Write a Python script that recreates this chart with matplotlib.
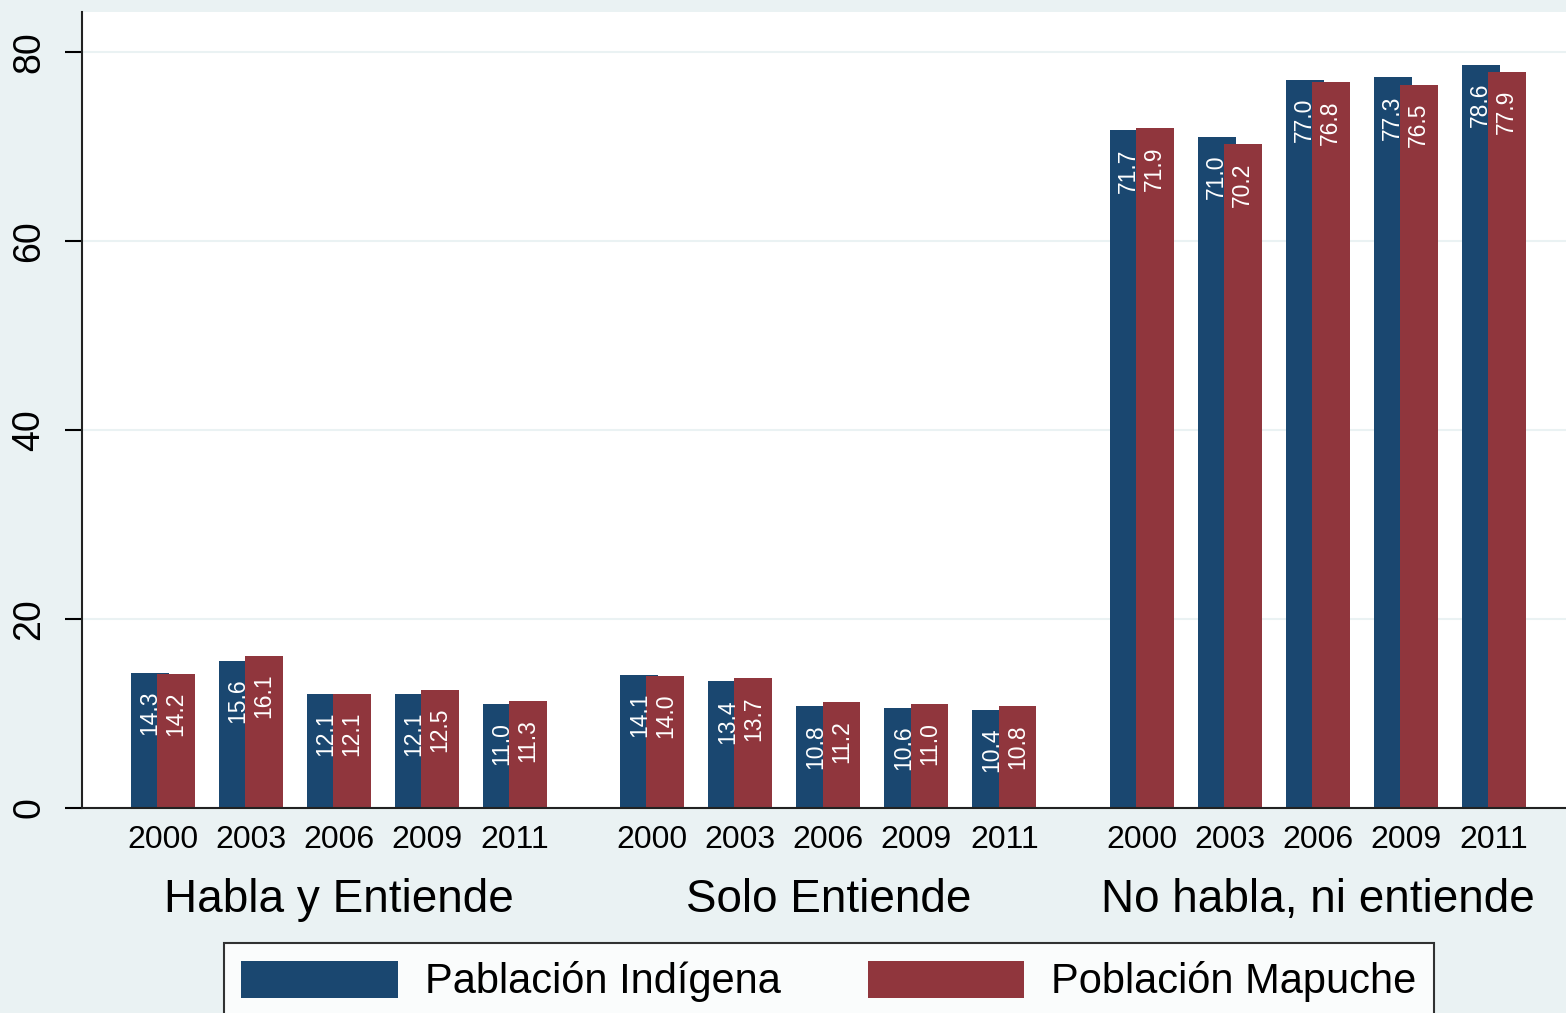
import matplotlib
matplotlib.use("Agg")
import matplotlib.pyplot as plt
import matplotlib.transforms as mtransforms
from matplotlib.patches import Patch

# data
groups = ["Habla y Entiende", "Solo Entiende", "No habla, ni entiende"]
years = ["2000", "2003", "2006", "2009", "2011"]
indigena = [
    [14.3, 15.6, 12.1, 12.1, 11.0],
    [14.1, 13.4, 10.8, 10.6, 10.4],
    [71.7, 71.0, 77.0, 77.3, 78.6],
]
mapuche = [
    [14.2, 16.1, 12.1, 12.5, 11.3],
    [14.0, 13.7, 11.2, 11.0, 10.8],
    [71.9, 70.2, 76.8, 76.5, 77.9],
]
series_labels = ["Pablación Indígena", "Población Mapuche"]

BLUE = "#1a4770"
RED = "#90363d"
BG = "#eaf2f3"

plt.rcParams['font.family'] = ['Liberation Sans', 'DejaVu Sans']

fig = plt.figure(figsize=(15.66, 10.13), dpi=100, facecolor=BG)
ax = fig.add_axes([82 / 1566, 1 - 808 / 1013, 1 - 82 / 1566, (808 - 12) / 1013])
ax.set_facecolor("white")

group_step = 5.56
bar_w = 0.43
off = 0.148

xticks = []
xlabels = []
for g, name in enumerate(groups):
    for j, yr in enumerate(years):
        xc = g * group_step + j
        xticks.append(xc)
        xlabels.append(yr)
        for val, dx, col in ((indigena[g][j], -off, BLUE), (mapuche[g][j], off, RED)):
            ax.bar(xc + dx, val, width=bar_w, color=col, zorder=3)
            ax.annotate("%.1f" % val, xy=(xc + dx, val), xytext=(0, -13),
                        textcoords="offset points", rotation=90,
                        ha="center", va="top", color="white", fontsize=16.5, zorder=4)

ax.set_xlim(-0.92, 15.94)
ax.set_ylim(0, 84.2)
ax.set_yticks([0, 20, 40, 60, 80])
ax.set_yticklabels(["0", "20", "40", "60", "80"], rotation=90, va="center", fontsize=27)
ax.tick_params(axis="y", length=12, width=1.5, pad=13)
ax.set_xticks(xticks)
ax.set_xticklabels(xlabels, fontsize=23)
ax.tick_params(axis="x", length=0, pad=12)

ax.grid(axis="y", color=BG, linewidth=1.5, zorder=0)
for s in ("top", "right"):
    ax.spines[s].set_visible(False)
for s in ("left", "bottom"):
    ax.spines[s].set_linewidth(1.5)
    ax.spines[s].set_color("#222222")
    ax.spines[s].set_zorder(5)

trans = mtransforms.blended_transform_factory(ax.transData, fig.transFigure)
for g, name in enumerate(groups):
    ax.text(g * group_step + 2, 1 - 900 / 1013, name, transform=trans,
            ha="center", va="center", fontsize=33)

handles = [Patch(facecolor=BLUE), Patch(facecolor=RED)]
leg = fig.legend(handles, series_labels, loc="upper center", ncol=2,
                 bbox_to_anchor=(829 / 1566, 1 - 943 / 1013),
                 fontsize=30, frameon=True, fancybox=False, edgecolor="black",
                 handlelength=3.75, handleheight=1.0, handletextpad=0.65,
                 columnspacing=2.1, borderpad=0.42, borderaxespad=0)
leg.get_frame().set_linewidth(1.5)

fig.savefig("out.png", dpi=100, facecolor=BG)
